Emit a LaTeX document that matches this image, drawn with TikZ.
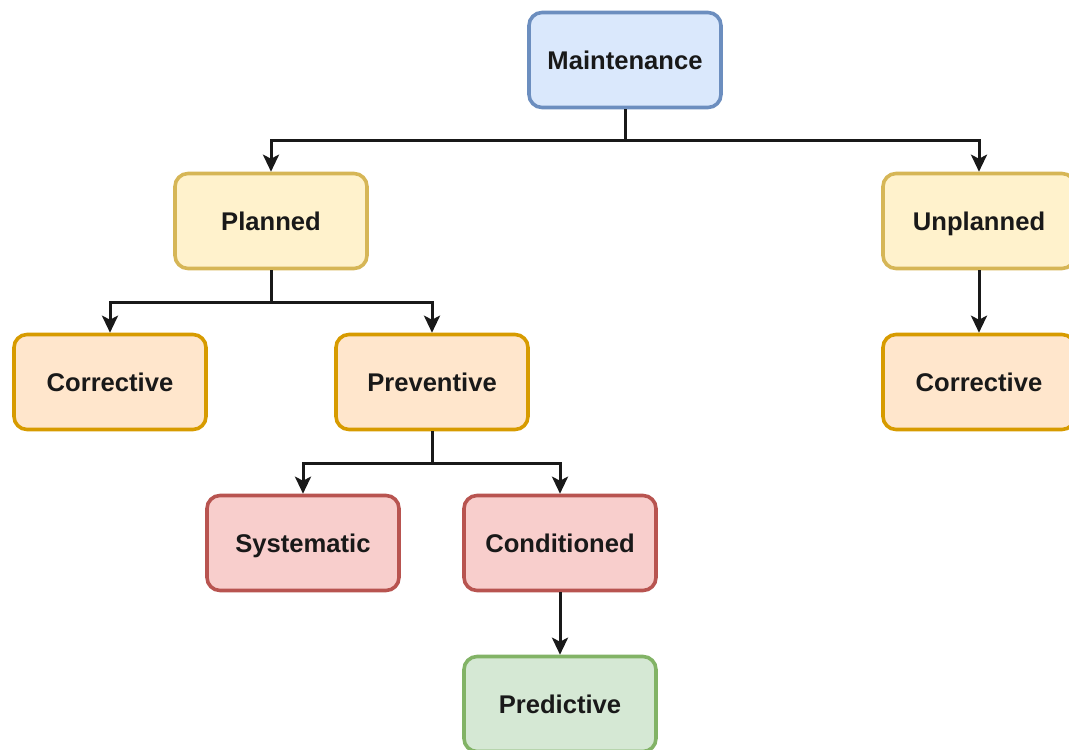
\documentclass[tikz,border=0pt]{standalone}
\usepackage{fontspec}
\setmainfont{Liberation Sans}
\usetikzlibrary{arrows.meta}

\definecolor{blueFill}{HTML}{DAE8FC}\definecolor{blueLine}{HTML}{6C8EBF}
\definecolor{yelFill}{HTML}{FFF2CC}\definecolor{yelLine}{HTML}{D6B656}
\definecolor{orgFill}{HTML}{FFE6CC}\definecolor{orgLine}{HTML}{D79B00}
\definecolor{redFill}{HTML}{F8CECC}\definecolor{redLine}{HTML}{B85450}
\definecolor{grnFill}{HTML}{D5E8D4}\definecolor{grnLine}{HTML}{82B366}

\tikzset{
  box/.style={rectangle, rounded corners=13pt, line width=3.6pt,
    minimum width=192pt, minimum height=95pt, inner sep=0pt,
    text height=19pt, text depth=1pt,
    font=\fontsize{25.6}{30}\selectfont\bfseries, text=black!90},
  bluebox/.style={box, draw=blueLine, fill=blueFill},
  yelbox/.style={box, draw=yelLine, fill=yelFill},
  orgbox/.style={box, draw=orgLine, fill=orgFill},
  redbox/.style={box, draw=redLine, fill=redFill},
  grnbox/.style={box, draw=grnLine, fill=grnFill},
  link/.style={line width=3pt, black!90,
    -{Stealth[length=17pt, width=16pt, inset=4pt]}}
}

\begin{document}
\begin{tikzpicture}[x=1pt, y=-1pt]
  \useasboundingbox (0,0) rectangle (1069,750);
  \clip (0,0) rectangle (1069,750);

  % boxes
  \node[bluebox] (m)  at (625, 60)  {Maintenance};
  \node[yelbox]  (pl) at (271, 221) {Planned};
  \node[yelbox]  (un) at (979, 221) {Unplanned};
  \node[orgbox]  (c1) at (110, 382) {Corrective};
  \node[orgbox]  (pr) at (432, 382) {Preventive};
  \node[orgbox]  (c2) at (979, 382) {Corrective};
  \node[redbox]  (sy) at (303, 543) {Systematic};
  \node[redbox]  (co) at (560, 543) {Conditioned};
  \node[grnbox]  (pd) at (560, 704) {Predictive};

  % connectors
  \draw[link] (m.south) -- ++(0,31) -| (pl.north);
  \draw[link] (m.south) -- ++(0,31) -| (un.north);
  \draw[link] (pl.south) -- ++(0,32) -| (c1.north);
  \draw[link] (pl.south) -- ++(0,32) -| (pr.north);
  \draw[link] (pr.south) -- ++(0,32) -| (sy.north);
  \draw[link] (pr.south) -- ++(0,32) -| (co.north);
  \draw[link] (un.south) -- (c2.north);
  \draw[link] (co.south) -- (pd.north);
\end{tikzpicture}
\end{document}
